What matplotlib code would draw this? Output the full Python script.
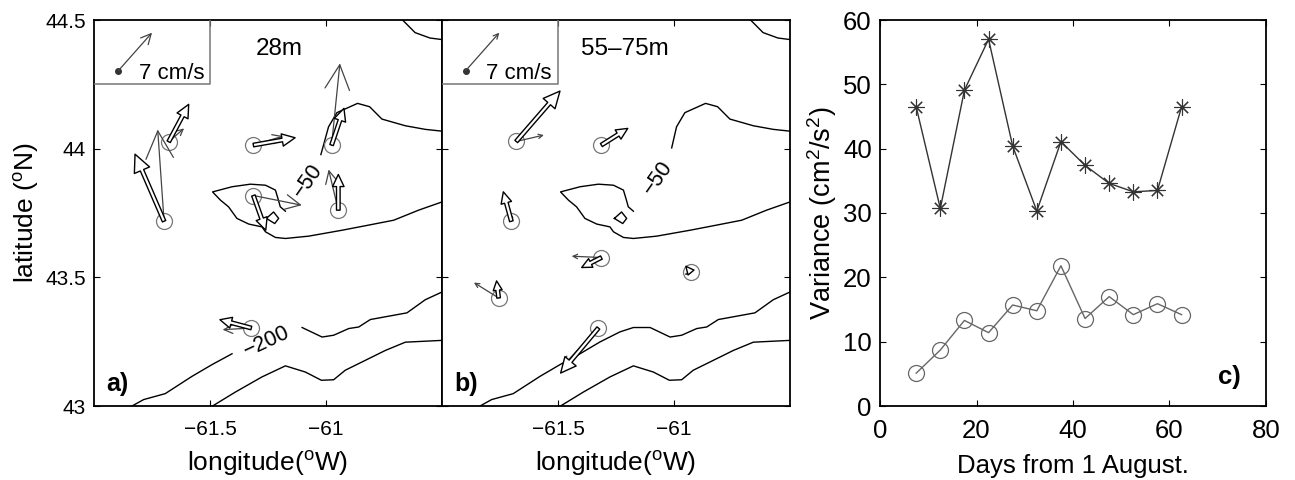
import numpy as np
import matplotlib
matplotlib.use('Agg')
import matplotlib.pyplot as plt

plt.rcParams['font.family'] = ['Liberation Sans', 'DejaVu Sans']
plt.rcParams['mathtext.fontset'] = 'custom'
plt.rcParams['mathtext.rm'] = 'Liberation Sans'
plt.rcParams['mathtext.default'] = 'rm'

# depth contours (lon, lat)
top_lon = [-60.670, -60.616, -60.552, -60.5]
top_lat = [44.5, 44.451, 44.430, 44.424]
c50_up_lon = [-61.010, -60.989, -60.953, -60.864, -60.812, -60.759, -60.658, -60.572, -60.5]
c50_up_lat = [44.003, 44.085, 44.140, 44.176, 44.163, 44.115, 44.089, 44.075, 44.068]
c50_lon = [-61.175, -61.197, -61.207, -61.218, -61.261, -61.326, -61.405, -61.489, -61.455, -61.420,
           -61.384, -61.333, -61.276, -61.261, -61.218, -61.175, -61.075, -60.931, -60.816, -60.708,
           -60.601, -60.5]
c50_lat = [43.757, 43.774, 43.806, 43.839, 43.858, 43.862, 43.852, 43.832, 43.800, 43.774,
           43.729, 43.707, 43.696, 43.677, 43.655, 43.651, 43.660, 43.683, 43.703, 43.722,
           43.761, 43.793]
dia_lon = [-61.257, -61.226, -61.204, -61.221, -61.257]
dia_lat = [43.729, 43.754, 43.729, 43.709, 43.729]
c200_lon = np.array([-61.836, -61.786, -61.693, -61.578, -61.491, -61.405, -61.319, -61.233, -61.175, -61.103,
                     -61.017, -60.967, -60.902, -60.859, -60.809, -60.730, -60.651, -60.572, -60.5])
c200_lat = np.array([43.0, 43.025, 43.048, 43.115, 43.161, 43.203, 43.249, 43.288, 43.305, 43.305,
                     43.268, 43.275, 43.301, 43.307, 43.336, 43.349, 43.362, 43.413, 43.443])
low_lon = [-61.489, -61.391, -61.276, -61.175, -61.089, -61.020, -60.967, -60.917, -60.845, -60.744, -60.658, -60.5]
low_lat = [43.0, 43.054, 43.113, 43.156, 43.132, 43.100, 43.102, 43.139, 43.171, 43.216, 43.248, 43.255]

# moorings, panel a
a_lon = [-61.678, -61.313, -60.976, -61.698, -61.313, -60.947, -61.322]
a_lat = [44.027, 44.014, 44.014, 43.718, 43.818, 43.761, 43.303]
a_u_open = [2.76, 5.76, 1.71, -4.01, 1.71, 0.0, -4.33]
a_v_open = [5.16, 1.01, 5.07, 9.26, -4.79, 4.93, 1.15]
a_u_thin = [2.12, 4.15, 1.15, -0.88, 6.68, -1.34, -3.96]
a_v_thin = [1.84, 1.24, 11.29, 12.67, -1.34, 5.62, -0.23]

# moorings, panel b
b_lon = [-61.680, -61.313, -61.701, -61.313, -60.927, -61.756, -61.326]
b_lat = [44.028, 44.014, 43.718, 43.577, 43.519, 43.420, 43.303]
b_u_open = [6.04, 3.64, -1.11, -2.72, -0.70, -0.28, -5.21]
b_v_open = [6.96, 2.30, 4.06, -1.38, 0.85, 2.35, -6.22]
b_u_thin = [3.82, 0.5, 0.2, -4.10, -0.9, -3.41, -4.84]
b_v_thin = [0.88, 0.2, 0.8, 0.18, -0.3, 2.12, -5.16]

# variance panel
days = [7.5, 12.5, 17.5, 22.5, 27.5, 32.5, 37.5, 42.5, 47.5, 52.5, 57.5, 62.5]
var_star = [46.5, 30.7, 49.1, 57.0, 40.4, 30.3, 41.1, 37.4, 34.6, 33.3, 33.5, 46.5]
var_circ = [5.1, 8.7, 13.3, 11.4, 15.7, 14.8, 21.8, 13.6, 17.0, 14.2, 15.9, 14.2]

W, H = 1295, 480
LON_SCALE = 0.0312   # deg per cm/s on the map
LAT_SCALE = 0.02813
PT_PER_CMS = 5.2     # points per cm/s


def axpx(x0, x1, y0, y1):
    return [x0 / W, 1 - y1 / H, (x1 - x0) / W, (y1 - y0) / H]


def thin_arrow(ax, x, y, u, v, ratio, col='#444444', lw=0.9):
    L = np.hypot(u, v) * PT_PER_CMS
    style = '->,head_length=%.2f,head_width=%.2f' % (L * ratio, L * ratio * 0.5)
    ax.annotate('', xy=(x + u * LON_SCALE, y + v * LAT_SCALE), xytext=(x, y),
                arrowprops=dict(arrowstyle=style, mutation_scale=1, shrinkA=0, shrinkB=0, color=col, lw=lw), zorder=4)


def open_arrow(ax, x, y, u, v):
    L = np.hypot(u, v)
    hl = 5 + 0.75 * L
    ax.annotate('', xy=(x + u * LON_SCALE, y + v * LAT_SCALE), xytext=(x, y),
                arrowprops=dict(width=2.6, headwidth=hl * 0.95, headlength=hl, shrink=0,
                                facecolor='white', edgecolor='black', lw=1.0), zorder=5)


def base_map(ax, lab):
    ax.plot(top_lon, top_lat, 'k', lw=1)
    ax.plot(c50_lon, c50_lat, 'k', lw=1)
    ax.plot(dia_lon, dia_lat, 'k', lw=1)
    ax.plot(low_lon, low_lat, 'k', lw=1)
    ax.set_xlim(-62, -60.5)
    ax.set_ylim(43, 44.5)
    ax.set_xticks([-61.5, -61])
    ax.set_xticklabels(['\u221261.5', '\u221261'])
    ax.set_yticks([43, 43.5, 44, 44.5])
    ax.tick_params(direction='in', top=True, right=True, length=4, width=0.8, labelsize=15, pad=6)
    ax.tick_params(axis='x', pad=10)
    ax.set_xlabel('longitude($^{\\mathrm{o}}$W)', fontsize=19, labelpad=7)
    for s in ax.spines.values():
        s.set_linewidth(1.3)
    # scale box
    ax.plot([-62, -61.5, -61.5], [44.252, 44.252, 44.5], color='#777777', lw=1.1, zorder=3)
    ax.text(0.035, 0.025, lab, transform=ax.transAxes, fontsize=18, fontweight='bold', va='bottom')


fig = plt.figure(figsize=(W / 100, H / 100), dpi=100)

# panel a
ax = fig.add_axes(axpx(94, 442, 20, 406))
base_map(ax, 'a)')
ax.plot([-61.022] + c50_up_lon[1:], [43.977] + c50_up_lat[1:], 'k', lw=1)
gap = (c200_lon > -61.40) & (c200_lon < -61.11)
ax.plot(np.where(gap, np.nan, c200_lon), c200_lat, 'k', lw=1)
ax.set_yticklabels(['43', '43.5', '44', '44.5'])
ax.set_ylabel('latitude ($^{\\mathrm{o}}$N)', fontsize=19, labelpad=3)
ax.plot(a_lon, a_lat, 'o', mfc='none', mec='#777777', ms=11.5, mew=0.9, zorder=3)
for i in range(len(a_lon)):
    open_arrow(ax, a_lon[i], a_lat[i], a_u_open[i], a_v_open[i])
    thin_arrow(ax, a_lon[i], a_lat[i], a_u_thin[i], a_v_thin[i], 0.3)
ax.plot([-61.895], [44.303], 'o', color='#333333', ms=4)
thin_arrow(ax, -61.895, 44.303, 4.65, 5.25, 0.2)
ax.text(-61.665, 44.292, '7 cm/s', fontsize=16, ha='center', va='center')
ax.text(0.533, 0.925, '28m', transform=ax.transAxes, fontsize=17.5, ha='center', va='center')
ax.text(-61.08, 43.875, '\u221250', fontsize=15.5, rotation=55, ha='center', va='center')
ax.text(-61.255, 43.25, '\u2212200', fontsize=15.5, rotation=25, ha='center', va='center')

# panel b
ax = fig.add_axes(axpx(442, 790, 20, 406))
base_map(ax, 'b)')
ax.plot(c50_up_lon, c50_up_lat, 'k', lw=1)
ax.plot(c200_lon, c200_lat, 'k', lw=1)
ax.set_yticklabels([])
ax.plot(b_lon, b_lat, 'o', mfc='none', mec='#777777', ms=11.5, mew=0.9, zorder=3)
for i in range(len(b_lon)):
    open_arrow(ax, b_lon[i], b_lat[i], b_u_open[i], b_v_open[i])
    thin_arrow(ax, b_lon[i], b_lat[i], b_u_thin[i], b_v_thin[i], 0.15)
ax.plot([-61.898], [44.303], 'o', color='#333333', ms=4)
thin_arrow(ax, -61.898, 44.303, 4.65, 5.25, 0.1)
ax.text(-61.67, 44.292, '7 cm/s', fontsize=16, ha='center', va='center')
ax.text(0.526, 0.925, '55\u201375m', transform=ax.transAxes, fontsize=17.5, ha='center', va='center')
ax.text(-61.07, 43.885, '\u221250', fontsize=15.5, rotation=55, ha='center', va='center')

# panel c
ax = fig.add_axes(axpx(880, 1266, 20, 406))
ax.plot(days, var_star, '-', color='#333333', lw=1.0, marker=(8, 2, 0), ms=11.5, mew=0.8)
ax.plot(days, var_circ, '-', color='#666666', lw=1.0, marker='o', mfc='none', ms=11.5, mew=0.9)
ax.set_xlim(0, 80)
ax.set_ylim(0, 60)
ax.set_xticks([0, 20, 40, 60, 80])
ax.set_yticks([0, 10, 20, 30, 40, 50, 60])
ax.tick_params(direction='in', top=True, right=True, length=4, width=0.8, labelsize=18.5, pad=6)
ax.tick_params(axis='x', pad=9)
for s in ax.spines.values():
    s.set_linewidth(1.3)
ax.set_xlabel('Days from 1 August.', fontsize=18.5, labelpad=8)
ax.set_ylabel('Variance (cm$^2$/s$^2$)', fontsize=19.5, labelpad=3)
ax.text(0.875, 0.045, 'c)', transform=ax.transAxes, fontsize=18.5, fontweight='bold', va='bottom')

fig.savefig('out.png', dpi=100)
